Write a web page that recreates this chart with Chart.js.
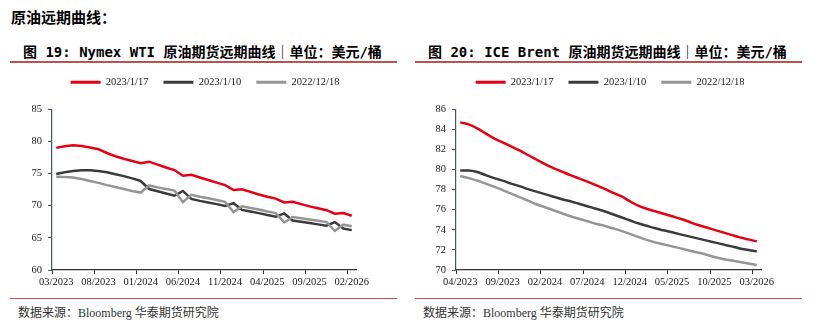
<!DOCTYPE html>
<html>
<head>
<meta charset="utf-8">
<script src="https://cdn.jsdelivr.net/npm/chart.js@4.4.1/dist/chart.umd.min.js"></script>
<style>
  body { margin: 0; background: #fff; width: 825px; height: 330px; position: relative; overflow: hidden; }
  .abs { position: absolute; white-space: nowrap; }
  .head { left: 11px; top: 9px; font: bold 15px/15px "Noto Sans CJK SC", sans-serif; color: #000; }
  .title { top: 45px; font: bold 14px/14px "DejaVu Sans Mono", "Noto Sans CJK SC", monospace; color: #000; }
  .rule { height: 2px; background: #c0504d; }
  .foot { height: 1.5px; background: #c0504d; }
  .src { top: 306px; font: 12px/12px "Liberation Serif", "Noto Sans CJK SC", serif; color: #333; }
  .src span { font-family: "Noto Sans CJK SC", sans-serif; }
  .box { position: absolute; top: 62px; height: 236px; }
</style>
</head>
<body>
<div class="abs head">原油远期曲线：</div>

<div class="abs title" style="left:23px">图 19: Nymex WTI 原油期货远期曲线｜单位：美元/桶</div>
<div class="abs rule" style="left:10px; top:61px; width:387px"></div>
<div class="box" style="left:0; width:410px"><canvas id="wti"></canvas></div>
<div class="abs foot" style="left:10px; top:297.5px; width:387px"></div>
<div class="abs src" style="left:18px"><span>数据来源：</span>Bloomberg <span>华泰期货研究院</span></div>

<div class="abs title" style="left:428px">图 20: ICE Brent 原油期货远期曲线｜单位：美元/桶</div>
<div class="abs rule" style="left:415px; top:61px; width:387px"></div>
<div class="box" style="left:410px; width:400px"><canvas id="brent"></canvas></div>
<div class="abs foot" style="left:415px; top:297.5px; width:387px"></div>
<div class="abs src" style="left:423px"><span>数据来源：</span>Bloomberg <span>华泰期货研究院</span></div>

<script>
// series names
const seriesNames = ['2023/1/17', '2023/1/10', '2022/12/18'];
const seriesColors = ['#e60012', '#3b3b3b', '#959595'];

// Nymex WTI, monthly contracts
const wtiMonths = [
  '03/2023', '04/2023', '05/2023', '06/2023', '07/2023', '08/2023', '09/2023', '10/2023', '11/2023', '12/2023',
  '01/2024', '02/2024', '03/2024', '04/2024', '05/2024', '06/2024', '07/2024', '08/2024', '09/2024', '10/2024', '11/2024', '12/2024',
  '01/2025', '02/2025', '03/2025', '04/2025', '05/2025', '06/2025', '07/2025', '08/2025', '09/2025', '10/2025', '11/2025', '12/2025',
  '01/2026', '02/2026'
];
const wtiJan17 = [79.0, 79.25, 79.4, 79.3, 79.05, 78.8, 78.2, 77.7, 77.3, 76.95, 76.6, 76.85, 76.4, 75.95, 75.55, 74.65, 74.8, 74.4,
  74.0, 73.6, 73.2, 72.45, 72.55, 72.15, 71.75, 71.4, 71.1, 70.5, 70.6, 70.25, 69.9, 69.6, 69.3, 68.75, 68.85, 68.45];
const wtiJan10 = [74.95, 75.2, 75.4, 75.5, 75.5, 75.4, 75.2, 74.9, 74.6, 74.25, 73.85, 72.6, 72.25, 71.9, 71.55, 72.3, 71.05, 70.75,
  70.5, 70.25, 69.95, 70.4, 69.35, 69.1, 68.85, 68.55, 68.3, 68.8, 67.7, 67.5, 67.3, 67.1, 66.9, 67.45, 66.45, 66.2];
const wtiDec18 = [74.5, 74.45, 74.4, 74.15, 73.85, 73.55, 73.2, 72.9, 72.6, 72.3, 72.05, 73.15, 72.85, 72.6, 72.35, 70.55, 71.7, 71.4,
  71.15, 70.9, 70.6, 69.0, 69.9, 69.65, 69.4, 69.1, 68.85, 67.4, 68.25, 68.05, 67.85, 67.65, 67.45, 66.1, 67.05, 66.8];

// ICE Brent, monthly contracts
const brentMonths = [
  '04/2023', '05/2023', '06/2023', '07/2023', '08/2023', '09/2023', '10/2023', '11/2023', '12/2023',
  '01/2024', '02/2024', '03/2024', '04/2024', '05/2024', '06/2024', '07/2024', '08/2024', '09/2024', '10/2024', '11/2024', '12/2024',
  '01/2025', '02/2025', '03/2025', '04/2025', '05/2025', '06/2025', '07/2025', '08/2025', '09/2025', '10/2025', '11/2025', '12/2025',
  '01/2026', '02/2026', '03/2026'
];
const brentJan17 = [84.7, 84.5, 84.1, 83.6, 83.1, 82.7, 82.3, 81.9, 81.45, 81.0, 80.55, 80.15, 79.8, 79.45, 79.13, 78.8, 78.46, 78.1,
  77.7, 77.35, 76.85, 76.4, 76.1, 75.85, 75.6, 75.35, 75.1, 74.8, 74.5, 74.25, 74.0, 73.75, 73.5, 73.25, 73.05, 72.85];
const brentJan10 = [79.9, 79.9, 79.75, 79.45, 79.15, 78.9, 78.6, 78.35, 78.05, 77.8, 77.55, 77.3, 77.05, 76.85, 76.6, 76.35, 76.1, 75.85,
  75.55, 75.25, 74.95, 74.65, 74.4, 74.15, 73.95, 73.75, 73.55, 73.35, 73.15, 72.95, 72.75, 72.55, 72.35, 72.15, 72.0, 71.85];
const brentDec18 = [79.35, 79.15, 78.9, 78.6, 78.3, 77.95, 77.6, 77.25, 76.9, 76.55, 76.25, 75.95, 75.65, 75.35, 75.1, 74.85, 74.6, 74.4,
  74.15, 73.9, 73.6, 73.3, 73.0, 72.75, 72.55, 72.35, 72.15, 71.95, 71.75, 71.55, 71.3, 71.1, 70.95, 70.8, 70.65, 70.5];

const tickFont = { family: '"Liberation Serif", "Times New Roman", serif', size: 10.5 };

// pushes the plot down below the legend
function legendGap(extra) {
  return {
    id: 'legendGap',
    beforeLayout(chart) {
      const legend = chart.legend;
      if (!legend || legend._gapPatched) return;
      const fit = legend.fit;
      legend.fit = function () {
        fit.call(this);
        this.height += extra;
      };
      legend._gapPatched = true;
    }
  };
}

function makeChart(id, labels, values, opt) {
  const datasets = values.map((data, i) => ({
    label: seriesNames[i],
    data: data,
    borderColor: seriesColors[i],
    backgroundColor: seriesColors[i],
    borderWidth: 2.5,
    pointRadius: 0,
    tension: opt.tension,
    cubicInterpolationMode: opt.tension ? 'monotone' : 'default'
  })).reverse();

  return new Chart(document.getElementById(id), {
    type: 'line',
    data: { labels, datasets },
    options: {
      responsive: true,
      maintainAspectRatio: false,
      animation: false,
      layout: { padding: 0 },
      plugins: {
        tooltip: { enabled: false },
        legend: {
          position: 'top',
          reverse: true,
          labels: {
            boxWidth: 30,
            boxHeight: 3,
            padding: 15,
            color: '#1a1a1a',
            font: tickFont,
            generateLabels(chart) {
              return Chart.defaults.plugins.legend.labels.generateLabels(chart).map(l => ({ ...l, lineWidth: 0 }));
            }
          }
        }
      },
      scales: {
        x: {
          type: 'category',
          offset: true,
          afterFit: a => { a.height = 28; },
          border: { display: true, color: '#333', width: 1.2 },
          grid: {
            offset: true,
            drawOnChartArea: false,
            drawTicks: true,
            tickLength: 4,
            color: ctx => ctx.index % 5 === 0 ? '#333' : 'rgba(0,0,0,0)'
          },
          ticks: {
            autoSkip: false,
            maxRotation: 0,
            padding: 2,
            color: '#1a1a1a',
            font: tickFont,
            callback: (v, i) => i % 5 === 0 ? labels[i] : ''
          }
        },
        y: {
          min: opt.min,
          max: opt.max,
          afterFit: a => { a.width = opt.left; },
          border: { display: true, color: '#44546a', width: 1.2 },
          grid: { drawOnChartArea: false, tickLength: 4, color: '#44546a' },
          ticks: { stepSize: opt.step, padding: 6, color: '#1a1a1a', font: tickFont }
        },
        spare: {
          position: 'right',
          afterFit: a => { a.width = opt.right; },
          border: { display: false },
          grid: { display: false },
          ticks: { display: false }
        }
      }
    },
    plugins: [legendGap(11.8)]
  });
}

makeChart('wti', wtiMonths, [wtiJan17, wtiJan10, wtiDec18], { min: 60, max: 85, step: 5, left: 52, right: 54, tension: 0 });
makeChart('brent', brentMonths, [brentJan17, brentJan10, brentDec18], { min: 70, max: 86, step: 2, left: 46, right: 49, tension: 0.4 });
</script>
</body>
</html>
